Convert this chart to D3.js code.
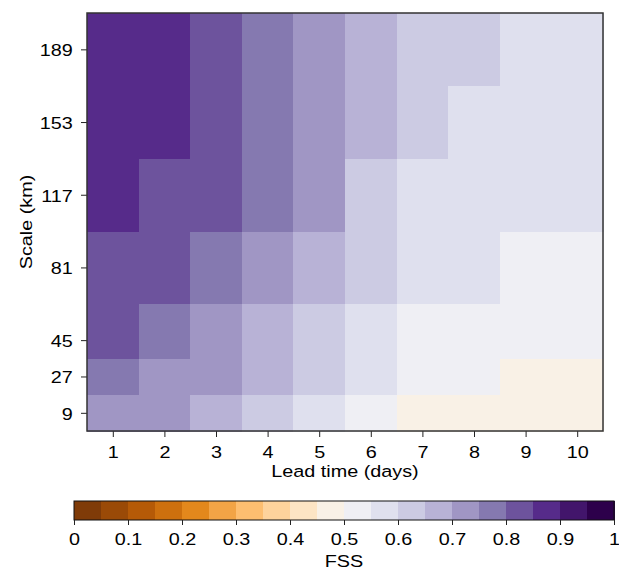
<!DOCTYPE html>
<html>
<head>
<meta charset="utf-8">
<script src="https://cdn.jsdelivr.net/npm/d3@7"></script>
<style>
  body { margin: 0; background: #fff; }
  svg { display: block; }
  text { font-family: "Liberation Sans", Arial, Helvetica, sans-serif; fill: #000; }
</style>
</head>
<body>
<div id="chart"></div>
<script>
// lead times (days) on x, verification scales (km) on y
const leadTimes = [1, 2, 3, 4, 5, 6, 7, 8, 9, 10];
const scales = [9, 27, 45, 81, 117, 153, 189];

// FSS per scale, one value per lead time
const fss9km   = [0.72, 0.71, 0.67, 0.62, 0.57, 0.52, 0.48, 0.47, 0.47, 0.46];
const fss27km  = [0.78, 0.73, 0.72, 0.68, 0.63, 0.57, 0.53, 0.52, 0.48, 0.48];
const fss45km  = [0.83, 0.78, 0.73, 0.68, 0.63, 0.58, 0.53, 0.52, 0.52, 0.51];
const fss81km  = [0.84, 0.83, 0.78, 0.73, 0.68, 0.63, 0.58, 0.56, 0.54, 0.53];
const fss117km = [0.88, 0.84, 0.83, 0.78, 0.73, 0.63, 0.58, 0.57, 0.57, 0.56];
const fss153km = [0.89, 0.88, 0.83, 0.79, 0.74, 0.68, 0.63, 0.59, 0.58, 0.58];
const fss189km = [0.89, 0.89, 0.84, 0.79, 0.74, 0.69, 0.64, 0.63, 0.59, 0.58];

const fssRows = [fss9km, fss27km, fss45km, fss81km, fss117km, fss153km, fss189km];

// colorbar
const levels = [0, 0.05, 0.1, 0.15, 0.2, 0.25, 0.3, 0.35, 0.4, 0.45, 0.5,
                0.55, 0.6, 0.65, 0.7, 0.75, 0.8, 0.85, 0.9, 0.95, 1];
const cbTicks = [0, 0.1, 0.2, 0.3, 0.4, 0.5, 0.6, 0.7, 0.8, 0.9, 1];
const cbTickLabels = ['0', '0.1', '0.2', '0.3', '0.4', '0.5', '0.6', '0.7', '0.8', '0.9', '1'];

const width = 619, height = 572;
const fontSize = 17;
const stretch = 1.165; // glyphs in the picture are wider than Arial's

// matplotlib PuOr
const puorStops = ['#7f3b08', '#b35806', '#e08214', '#fdb863', '#fee0b6', '#f7f7f7',
                   '#d8daeb', '#b2abd2', '#8073ac', '#542788', '#2d004b'];
const puor = d3.scaleLinear()
  .domain(d3.range(11).map(i => i / 10))
  .range(puorStops)
  .interpolate(d3.interpolateRgb);

const nBins = levels.length - 1;
function binColor(i) {
  return puor(i / (nBins - 1));
}
function valueColor(v) {
  let i = d3.bisectRight(levels, v) - 1;
  i = Math.max(0, Math.min(nBins - 1, i));
  return binColor(i);
}

const svg = d3.select('#chart').append('svg')
  .attr('width', width)
  .attr('height', height)
  .attr('viewBox', `0 0 ${width} ${height}`);

svg.append('rect').attr('width', width).attr('height', height).attr('fill', '#fff');

const plot = { left: 87, right: 603, top: 13, bottom: 431 };

// cell edges in km (midpoints between scales, ends extrapolated)
const edges = [scales[0] - (scales[1] - scales[0]) / 2];
for (let i = 1; i < scales.length; i++) edges.push((scales[i - 1] + scales[i]) / 2);
edges.push(scales[scales.length - 1] + (scales[scales.length - 1] - scales[scales.length - 2]) / 2);

const xScale = d3.scaleLinear()
  .domain([leadTimes[0] - 0.5, leadTimes[leadTimes.length - 1] + 0.5])
  .range([plot.left, plot.right]);

const yScale = d3.scaleLinear()
  .domain([edges[0], edges[edges.length - 1]])
  .range([plot.bottom, plot.top]);

const cells = [];
fssRows.forEach((row, i) => {
  row.forEach((v, j) => {
    cells.push({ lt: leadTimes[j], y0: edges[i], y1: edges[i + 1], v });
  });
});

svg.append('g')
  .attr('class', 'cells')
  .selectAll('rect')
  .data(cells)
  .join('rect')
  .attr('x', d => xScale(d.lt - 0.5))
  .attr('y', d => yScale(d.y1))
  .attr('width', d => xScale(d.lt + 0.5) - xScale(d.lt - 0.5) + 0.5)
  .attr('height', d => yScale(d.y0) - yScale(d.y1) + 0.5)
  .attr('fill', d => valueColor(d.v))
  .attr('shape-rendering', 'crispEdges');

// axes
const xAxis = d3.axisBottom(xScale).tickValues(leadTimes).tickSize(6).tickFormat(d3.format('d'));
const gx = svg.append('g')
  .attr('transform', `translate(0,${plot.bottom})`)
  .call(xAxis);

const yAxis = d3.axisLeft(yScale).tickValues(scales).tickSize(6).tickFormat(d3.format('d'));
const gy = svg.append('g')
  .attr('transform', `translate(${plot.left},0)`)
  .call(yAxis);

[gx, gy].forEach(g => {
  g.attr('font-size', fontSize).attr('font-family', null);
  g.select('.domain').remove();
  g.selectAll('.tick line').attr('stroke', '#222').attr('stroke-width', 1);
});

gx.selectAll('.tick text')
  .attr('y', 27.5)
  .attr('dy', null)
  .attr('transform', `scale(${stretch},1)`);

gy.selectAll('.tick text')
  .attr('x', -14.3 / stretch)
  .attr('y', 6.5)
  .attr('dy', null)
  .attr('transform', `scale(${stretch},1)`);

// frame
svg.append('rect')
  .attr('x', plot.left)
  .attr('y', plot.top)
  .attr('width', plot.right - plot.left)
  .attr('height', plot.bottom - plot.top)
  .attr('fill', 'none')
  .attr('stroke', '#333')
  .attr('stroke-width', 1.5);

// axis titles
svg.append('text')
  .attr('transform', `translate(${(plot.left + plot.right) / 2},477) scale(${stretch},1)`)
  .attr('text-anchor', 'middle')
  .attr('font-size', fontSize)
  .text('Lead time (days)');

svg.append('text')
  .attr('transform', `translate(32,${(plot.top + plot.bottom) / 2}) rotate(-90) scale(${stretch},1)`)
  .attr('text-anchor', 'middle')
  .attr('font-size', fontSize)
  .text('Scale (km)');

// colorbar
const cb = { left: 74, right: 614, top: 501, bottom: 520 };
const cbScale = d3.scaleLinear().domain([0, 1]).range([cb.left, cb.right]);

svg.append('g')
  .selectAll('rect')
  .data(d3.range(nBins))
  .join('rect')
  .attr('x', i => cbScale(levels[i]))
  .attr('y', cb.top)
  .attr('width', i => cbScale(levels[i + 1]) - cbScale(levels[i]) + 0.5)
  .attr('height', cb.bottom - cb.top)
  .attr('fill', i => binColor(i))
  .attr('shape-rendering', 'crispEdges');

svg.append('rect')
  .attr('x', cb.left)
  .attr('y', cb.top)
  .attr('width', cb.right - cb.left)
  .attr('height', cb.bottom - cb.top)
  .attr('fill', 'none')
  .attr('stroke', '#111')
  .attr('stroke-width', 1);

const cbAxis = d3.axisBottom(cbScale)
  .tickValues(cbTicks)
  .tickSize(5)
  .tickFormat((d, i) => cbTickLabels[i]);

const gcb = svg.append('g')
  .attr('transform', `translate(0,${cb.bottom})`)
  .call(cbAxis);
gcb.attr('font-size', fontSize).attr('font-family', null);
gcb.select('.domain').remove();
gcb.selectAll('.tick line').attr('stroke', '#222');
gcb.selectAll('.tick text')
  .attr('y', 25)
  .attr('dy', null)
  .attr('transform', `scale(${stretch},1)`);

svg.append('text')
  .attr('transform', `translate(${(cb.left + cb.right) / 2},566.5) scale(${stretch},1)`)
  .attr('text-anchor', 'middle')
  .attr('font-size', fontSize)
  .text('FSS');
</script>
</body>
</html>
